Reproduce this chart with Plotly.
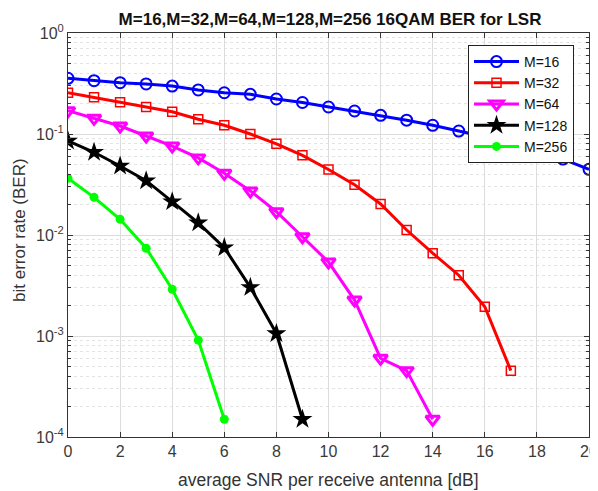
import plotly.graph_objects as go

snr = list(range(0, 21))
ber_m16 = [0.356, 0.337, 0.322, 0.313, 0.298, 0.273, 0.256, 0.247, 0.222, 0.205, 0.185,
           0.169, 0.153, 0.137, 0.122, 0.107, 0.094, 0.081, 0.0695, 0.0565, 0.0447]
ber_m32 = [0.256, 0.231, 0.206, 0.185, 0.166, 0.140, 0.122, 0.100, 0.080, 0.0615, 0.0445,
           0.0315, 0.0203, 0.0112, 0.0066, 0.0040, 0.00195, 0.000454]
ber_m64 = [0.170, 0.143, 0.120, 0.0955, 0.076, 0.058, 0.0408, 0.0273, 0.017, 0.0096, 0.0054,
           0.00227, 0.000602, 0.000454, 0.00015]
ber_m128 = [0.0853, 0.0659, 0.0482, 0.0345, 0.0214, 0.0132, 0.0075, 0.00303, 0.00106, 0.00015]
ber_m256 = [0.0364, 0.0236, 0.0143, 0.0074, 0.0029, 0.00091, 0.00015]

ytick_vals = [1e-4, 1e-3, 1e-2, 1e-1, 1]
ytick_text = ["10<sup>-4</sup>", "10<sup>-3</sup>", "10<sup>-2</sup>", "10<sup>-1</sup>", "10<sup>0</sup>"]
minor_vals = [m * 10 ** e for e in range(-4, 0) for m in range(2, 10)]

series = [
    ("M=16", ber_m16, "#0000ff", "circle-open", 11, 2),
    ("M=32", ber_m32, "#ff0000", "square-open", 9, 1.5),
    ("M=64", ber_m64, "#ff00ff", "triangle-down-open", 12, 3),
    ("M=128", ber_m128, "#000000", "star", 15, 0),
    ("M=256", ber_m256, "#00ff00", "circle", 9, 0),
]

# page body has an 8px margin, so the figure is drawn 8px smaller
W, H = 590, 483
L, R, T, B = 60, 9, 25, 54
PW, PH = W - L - R, H - T - B

fig = go.Figure()
for name, vals, color, sym, size, mlw in series:
    fig.add_trace(go.Scatter(
        x=snr[:len(vals)], y=vals, name=name, mode="lines+markers",
        line=dict(color=color, width=3),
        marker=dict(symbol=sym, size=size, color=color, line=dict(color=color, width=mlw)),
    ))

FAM = "Liberation Sans, Arial, sans-serif"
axis_font = dict(family=FAM, size=16, color="#3a3a3a")
fig.update_layout(
    width=W, height=H,
    margin=dict(l=L, r=R, t=T, b=B),
    paper_bgcolor="white", plot_bgcolor="white",
    font=dict(family=FAM, color="#222222"),
    title=dict(text="<b>M=16,M=32,M=64,M=128,M=256 16QAM BER for LSR</b>",
               x=322 / W, xanchor="center", y=1 - 11 / H, yanchor="middle",
               font=dict(size=17, color="#111111")),
    legend=dict(x=(566 - L) / PW, y=(H - B - 37) / PH,
                xanchor="right", yanchor="top",
                bgcolor="white", bordercolor="#222222", borderwidth=1,
                font=dict(size=14, color="#111111"), tracegroupgap=0,
                itemwidth=45),
    showlegend=True,
    annotations=[
        dict(text="average SNR per receive antenna [dB]", xref="paper", yref="paper",
             x=0.5, y=-(472 - (H - B)) / PH,
             xanchor="center", yanchor="middle", showarrow=False,
             font=dict(family=FAM, size=17.5, color="#333333")),
        dict(text="bit error rate (BER)", xref="paper", yref="paper",
             x=-(L - 11) / PW, y=(H - B - 222) / PH,
             xanchor="center", yanchor="middle", textangle=-90, showarrow=False,
             font=dict(family=FAM, size=17, color="#333333")),
    ],
)
fig.update_xaxes(
    range=[0, 20], tickmode="linear", tick0=0, dtick=2, automargin=False,
    showgrid=True, gridcolor="#dcdcdc", gridwidth=1,
    showline=True, linecolor="#333333", linewidth=1, mirror="ticks",
    ticks="inside", ticklen=5, tickcolor="#333333",
    tickfont=axis_font, zeroline=False,
)
fig.update_yaxes(
    type="log", range=[-4, 0], automargin=False,
    tickmode="array", tickvals=ytick_vals, ticktext=ytick_text,
    showgrid=True, gridcolor="#dcdcdc", gridwidth=1,
    showline=True, linecolor="#333333", linewidth=1, mirror="ticks",
    ticks="inside", ticklen=5, tickcolor="#333333",
    tickfont=axis_font, zeroline=False,
    minor=dict(tickmode="array", tickvals=minor_vals, ticks="inside", ticklen=3,
               tickcolor="#333333", showgrid=True, gridcolor="#e3e3e3", griddash="dot"),
)

fig.write_html("out.html")
